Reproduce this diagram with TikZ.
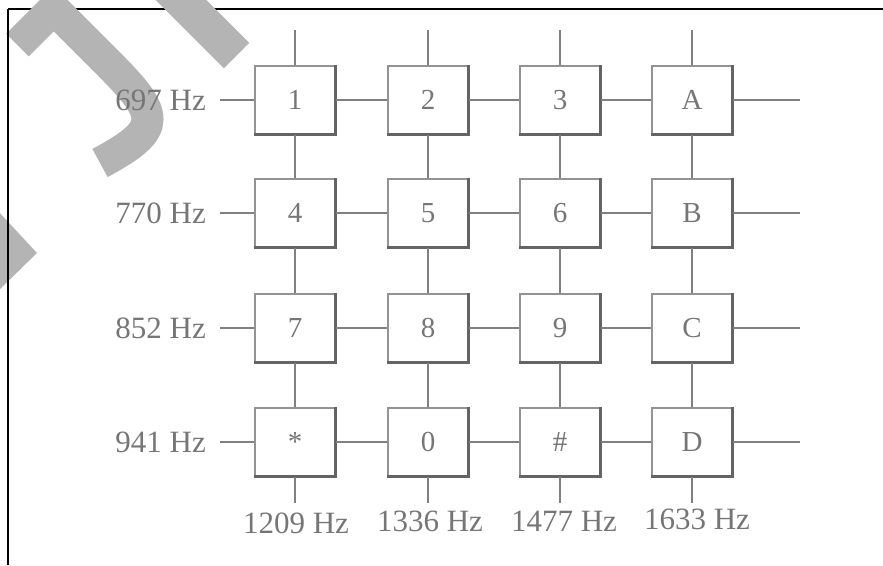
\documentclass[tikz,border=0pt]{standalone}
\usepackage{fontspec}
\setmainfont{Liberation Serif}
\definecolor{wm}{RGB}{180,180,180}
\definecolor{ink}{RGB}{118,118,118}
\definecolor{wirec}{RGB}{128,128,128}
\definecolor{shade}{RGB}{100,100,100}
\begin{document}
\begin{tikzpicture}[x=1pt,y=-1pt,
  key/.style={draw=wirec!85, line width=1.1pt, minimum width=80pt, minimum height=68pt,
    inner sep=0pt, fill=white, text=ink, font=\fontsize{29}{34}\selectfont},
  lbl/.style={text=ink, font=\fontsize{31}{36}\selectfont, inner sep=0pt},
  wire/.style={draw=wirec, line width=1.5pt},
  keyshadow/.style={draw=shade, line width=2.6pt},
  frame/.style={draw=black, line width=2pt},
  wmband/.style={draw=wm, line cap=butt, line join=miter}
]
\useasboundingbox (0,0) rectangle (883,565);
\begin{scope}
  \clip (0,0) rectangle (883,565);
  \draw[frame] (8,9) -- (883,9);
  % watermark
  \draw[wmband, line width=32pt] (17.5,45) -- (53.75,8.75) -- (105,60)
      .. controls (160,115) and (165,128) .. (100,163);
  \draw[wmband, line width=36pt] (130,-51) -- (236.5,55.5);
  \fill[wm] (-2,211) -- (37,253) -- (-2,291) -- cycle;
  \draw[frame] (8,9) -- (8,565);
\end{scope}

% keys
\node[key] (k1) at (295,100) {1};
\node[key] (k2) at (428,100) {2};
\node[key] (k3) at (560,100) {3};
\node[key] (kA) at (692,100) {A};
\node[key] (k4) at (295,213) {4};
\node[key] (k5) at (428,213) {5};
\node[key] (k6) at (560,213) {6};
\node[key] (kB) at (692,213) {B};
\node[key] (k7) at (295,328) {7};
\node[key] (k8) at (428,328) {8};
\node[key] (k9) at (560,328) {9};
\node[key] (kC) at (692,328) {C};
\node[key] (ks) at (295,442) {\raisebox{-0.25em}{*}};
\node[key] (k0) at (428,442) {0};
\node[key] (kh) at (560,442) {\#};
\node[key] (kD) at (692,442) {D};

\foreach \n in {k1,k2,k3,kA,k4,k5,k6,kB,k7,k8,k9,kC,ks,k0,kh,kD}
  \draw[keyshadow] (\n.north east) -- (\n.south east) -- (\n.south west);

% free ends
\coordinate (l1) at (220,100); \coordinate (r1) at (800,100);
\coordinate (l2) at (220,213); \coordinate (r2) at (800,213);
\coordinate (l3) at (220,328); \coordinate (r3) at (800,328);
\coordinate (l4) at (220,442); \coordinate (r4) at (800,442);
\coordinate (t1) at (295,30); \coordinate (b1) at (295,503);
\coordinate (t2) at (428,30); \coordinate (b2) at (428,503);
\coordinate (t3) at (560,30); \coordinate (b3) at (560,503);
\coordinate (t4) at (692,30); \coordinate (b4) at (692,503);

% rows
\draw[wire] (l1) -- (k1) (k1) -- (k2) (k2) -- (k3) (k3) -- (kA) (kA) -- (r1);
\draw[wire] (l2) -- (k4) (k4) -- (k5) (k5) -- (k6) (k6) -- (kB) (kB) -- (r2);
\draw[wire] (l3) -- (k7) (k7) -- (k8) (k8) -- (k9) (k9) -- (kC) (kC) -- (r3);
\draw[wire] (l4) -- (ks) (ks) -- (k0) (k0) -- (kh) (kh) -- (kD) (kD) -- (r4);
% columns
\draw[wire] (t1) -- (k1) (k1) -- (k4) (k4) -- (k7) (k7) -- (ks) (ks) -- (b1);
\draw[wire] (t2) -- (k2) (k2) -- (k5) (k5) -- (k8) (k8) -- (k0) (k0) -- (b2);
\draw[wire] (t3) -- (k3) (k3) -- (k6) (k6) -- (k9) (k9) -- (kh) (kh) -- (b3);
\draw[wire] (t4) -- (kA) (kA) -- (kB) (kB) -- (kC) (kC) -- (kD) (kD) -- (b4);

% row labels
\node[lbl, anchor=east] (f697) at (206,100) {697 Hz};
\node[lbl, anchor=east] (f770) at (206,213) {770 Hz};
\node[lbl, anchor=east] (f852) at (206,328) {852 Hz};
\node[lbl, anchor=east] (f941) at (206,442) {941 Hz};
% column labels
\node[lbl] (f1209) at (296,523) {1209 Hz};
\node[lbl] (f1336) at (430,521) {1336 Hz};
\node[lbl] (f1477) at (564,521) {1477 Hz};
\node[lbl] (f1633) at (697,519) {1633 Hz};
\end{tikzpicture}
\end{document}
